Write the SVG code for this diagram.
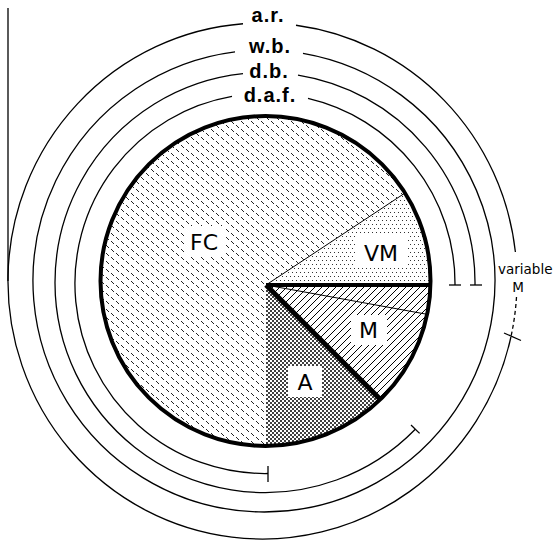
<svg xmlns="http://www.w3.org/2000/svg" width="555" height="541" viewBox="0 0 555 541">
<style>
.arc{fill:none;stroke:#000;stroke-width:1.3}
.tick{stroke:#000;stroke-width:1.3}
.top{font-family:"Liberation Sans",Arial,sans-serif;font-weight:bold;font-size:20px;letter-spacing:1px;text-anchor:middle;fill:#000}
.lbl{font-family:"DejaVu Sans",sans-serif;font-size:22px;text-anchor:middle;fill:#000}
.sm{font-family:"DejaVu Sans",sans-serif;font-size:13.5px;fill:#000}
.wb{fill:#fff}
</style>
<defs>
<pattern id="pFC" width="10" height="8" patternUnits="userSpaceOnUse">
<path d="M1 1 L4 4 M6 5 L9 8" stroke="#222" stroke-width="1"/>
</pattern>
<pattern id="pVM" width="4" height="8" patternUnits="userSpaceOnUse">
<rect x="0" y="0" width="1" height="1" fill="#333"/>
<rect x="2" y="4" width="1" height="1" fill="#333"/>
</pattern>
<pattern id="pM" width="7" height="7" patternUnits="userSpaceOnUse">
<path d="M0 7 L7 0 M-1 1 L1 -1 M6 8 L8 6" stroke="#000" stroke-width="1"/>
</pattern>
<pattern id="pA" width="4" height="4" patternUnits="userSpaceOnUse">
<circle cx="1" cy="1" r="1" fill="#000"/>
<circle cx="3" cy="3" r="1" fill="#000"/>
</pattern>
</defs>
<rect width="555" height="541" fill="#fff"/>

<g id="pie">
<g id="FC">
<path d="M266 285 L405.1 192.95 A165 165 0 1 0 266 446 Z" fill="url(#pFC)"/>
<rect class="wb" x="185" y="226" width="41" height="30"/>
<text class="lbl" x="204" y="250">FC</text>
</g>
<g id="VM">
<path d="M266 285 L430.45 285 A165 165 0 0 0 405.1 192.95 Z" fill="url(#pVM)"/>
<rect class="wb" x="355" y="236" width="52" height="31"/>
<text class="lbl" x="381" y="261">VM</text>
</g>
<g id="M">
<path d="M266 285 L380.4 399.4 A165 165 0 0 0 430.45 285 Z" fill="url(#pM)"/>
<rect class="wb" x="351" y="315" width="36" height="30"/>
<text class="lbl" x="368.5" y="338">M</text>
</g>
<g id="A">
<path d="M266 285 L266 446 A165 165 0 0 0 380.4 399.4 Z" fill="url(#pA)"/>
<rect class="wb" x="288" y="366" width="34" height="31"/>
<text class="lbl" x="305" y="390">A</text>
</g>
<g id="pie-lines">
<line x1="266" y1="285" x2="405.1" y2="192.95" stroke="#000" stroke-width="1"/>
<line x1="266" y1="285" x2="427.1" y2="314.3" stroke="#000" stroke-width="1"/>
<line x1="266" y1="285" x2="430.45" y2="285" stroke="#000" stroke-width="4"/>
<line x1="266" y1="285" x2="380.4" y2="399.4" stroke="#000" stroke-width="5"/>
<circle cx="265.5" cy="281" r="165" fill="none" stroke="#000" stroke-width="4"/>
</g>
</g>

<g id="connectors">
<g id="daf">
<path class="arc" d="M455 285 A190 190 0 0 0 308 98.4"/>
<path class="arc" d="M232 96.4 A190 190 0 0 0 268 473.5"/>
<line class="tick" x1="449" y1="285" x2="461" y2="285"/>
<line class="tick" x1="268" y1="466" x2="268" y2="482"/>
</g>
<g id="db">
<path class="arc" d="M475 285 A210 210 0 0 0 298 75.1"/>
<path class="arc" d="M243 73.7 A210 210 0 1 0 415.3 429.2"/>
<line class="tick" x1="470" y1="285" x2="482" y2="285"/>
<line class="tick" x1="411" y1="425" x2="419.6" y2="433.4"/>
</g>
<g id="wb">
<path class="arc" d="M303 53.3 A231 231 0 1 1 235 51.8"/>
</g>
<g id="ar">
<path class="arc" d="M296 25.25 A254.5 258 0 0 1 515.4 252"/>
<path class="arc" d="M516.5 297 A254.5 258 0 0 1 510.9 337" stroke-dasharray="4 3"/>
<path class="arc" d="M510.9 337 A254.5 258 0 1 1 243 23.76"/>
<line class="tick" x1="504" y1="333" x2="521" y2="340.5"/>
<line class="tick" x1="8" y1="8" x2="8" y2="281"/>
</g>
</g>

<g id="labels">
<text class="top" x="268" y="22">a.r.</text>
<text class="top" x="270" y="53">w.b.</text>
<text class="top" x="269" y="78">d.b.</text>
<text class="top" x="270" y="102">d.a.f.</text>
<text class="sm" x="498" y="274">variable</text>
<text class="sm" x="518" y="292" text-anchor="middle">M</text>
</g>
</svg>
